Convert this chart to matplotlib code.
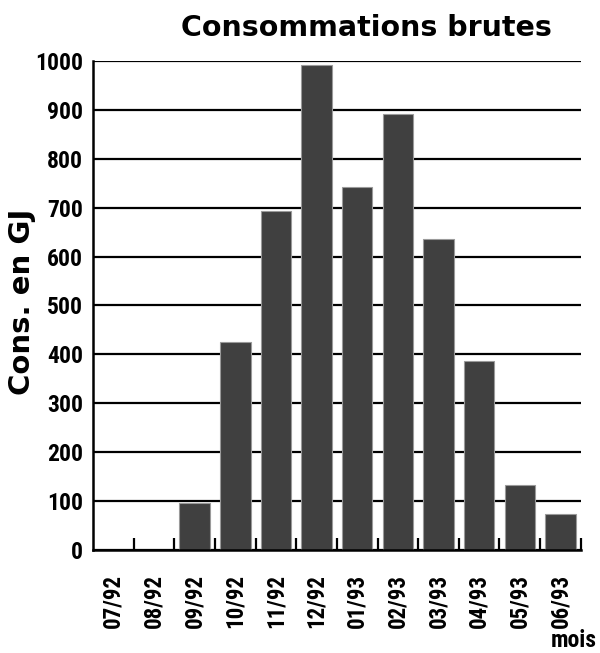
import numpy as np
import matplotlib
matplotlib.use("Agg")
import matplotlib.pyplot as plt
from matplotlib import font_manager

# consommations mensuelles (GJ), saison 92/93
mois = ["07/92", "08/92", "09/92", "10/92", "11/92", "12/92",
        "01/93", "02/93", "03/93", "04/93", "05/93", "06/93"]
conso = [0, 0, 96, 426, 694, 992, 742, 891, 636, 387, 133, 73]
yticks = [0, 100, 200, 300, 400, 500, 600, 700, 800, 900, 1000]

# police etroite pour les graduations, si disponible
installed = {f.name for f in font_manager.fontManager.ttflist}
narrow = next((n for n in ["Roboto Condensed", "Liberation Sans Narrow",
                           "Open Sans Condensed", "Liberation Sans"]
               if n in installed), "DejaVu Sans")

lab_font = dict(family=[narrow, "DejaVu Sans"], fontweight="bold")

fig = plt.figure(figsize=(6, 6.53), dpi=100)
ax = fig.add_axes([0.155, 0.1577, 0.813, 0.749])

x = np.arange(len(mois))
ax.bar(x, conso, width=0.75, color="#404040", edgecolor="#9a9a9a",
       linewidth=0.8, zorder=3)

ax.set_xlim(-0.5, len(mois) - 0.5)
ax.set_ylim(0, 1000)
ax.set_yticks(yticks)
ax.set_yticklabels([str(v) for v in yticks], fontsize=17, **lab_font)
ax.yaxis.grid(True, color="black", linewidth=1.6, zorder=1)
ax.tick_params(axis="y", length=0, pad=7)

ax.set_xticks(x)
ax.set_xticklabels(mois, rotation=90, fontsize=16.5, **lab_font)
ax.tick_params(axis="x", which="major", length=0, pad=17)
ax.set_xticks(np.arange(0.5, len(mois), 1.0), minor=True)
ax.tick_params(axis="x", which="minor", direction="in", length=9, width=1.6)

for s in ["top", "right"]:
    ax.spines[s].set_visible(False)
for s in ["left", "bottom"]:
    ax.spines[s].set_linewidth(1.8)
    ax.spines[s].set_zorder(4)

fig.text(22 / 600, 0.5375, "Cons. en GJ", rotation=90, ha="center", va="center",
         fontsize=21, fontweight="heavy", family="DejaVu Sans")
fig.text(0.995, 0.002, "mois", ha="right", va="bottom", fontsize=17, **lab_font)
fig.text(0.611, 0.957, "Consommations brutes", ha="center", va="center",
         fontsize=20.5, fontweight="heavy", family="DejaVu Sans")

fig.savefig("out.png", dpi=100)
